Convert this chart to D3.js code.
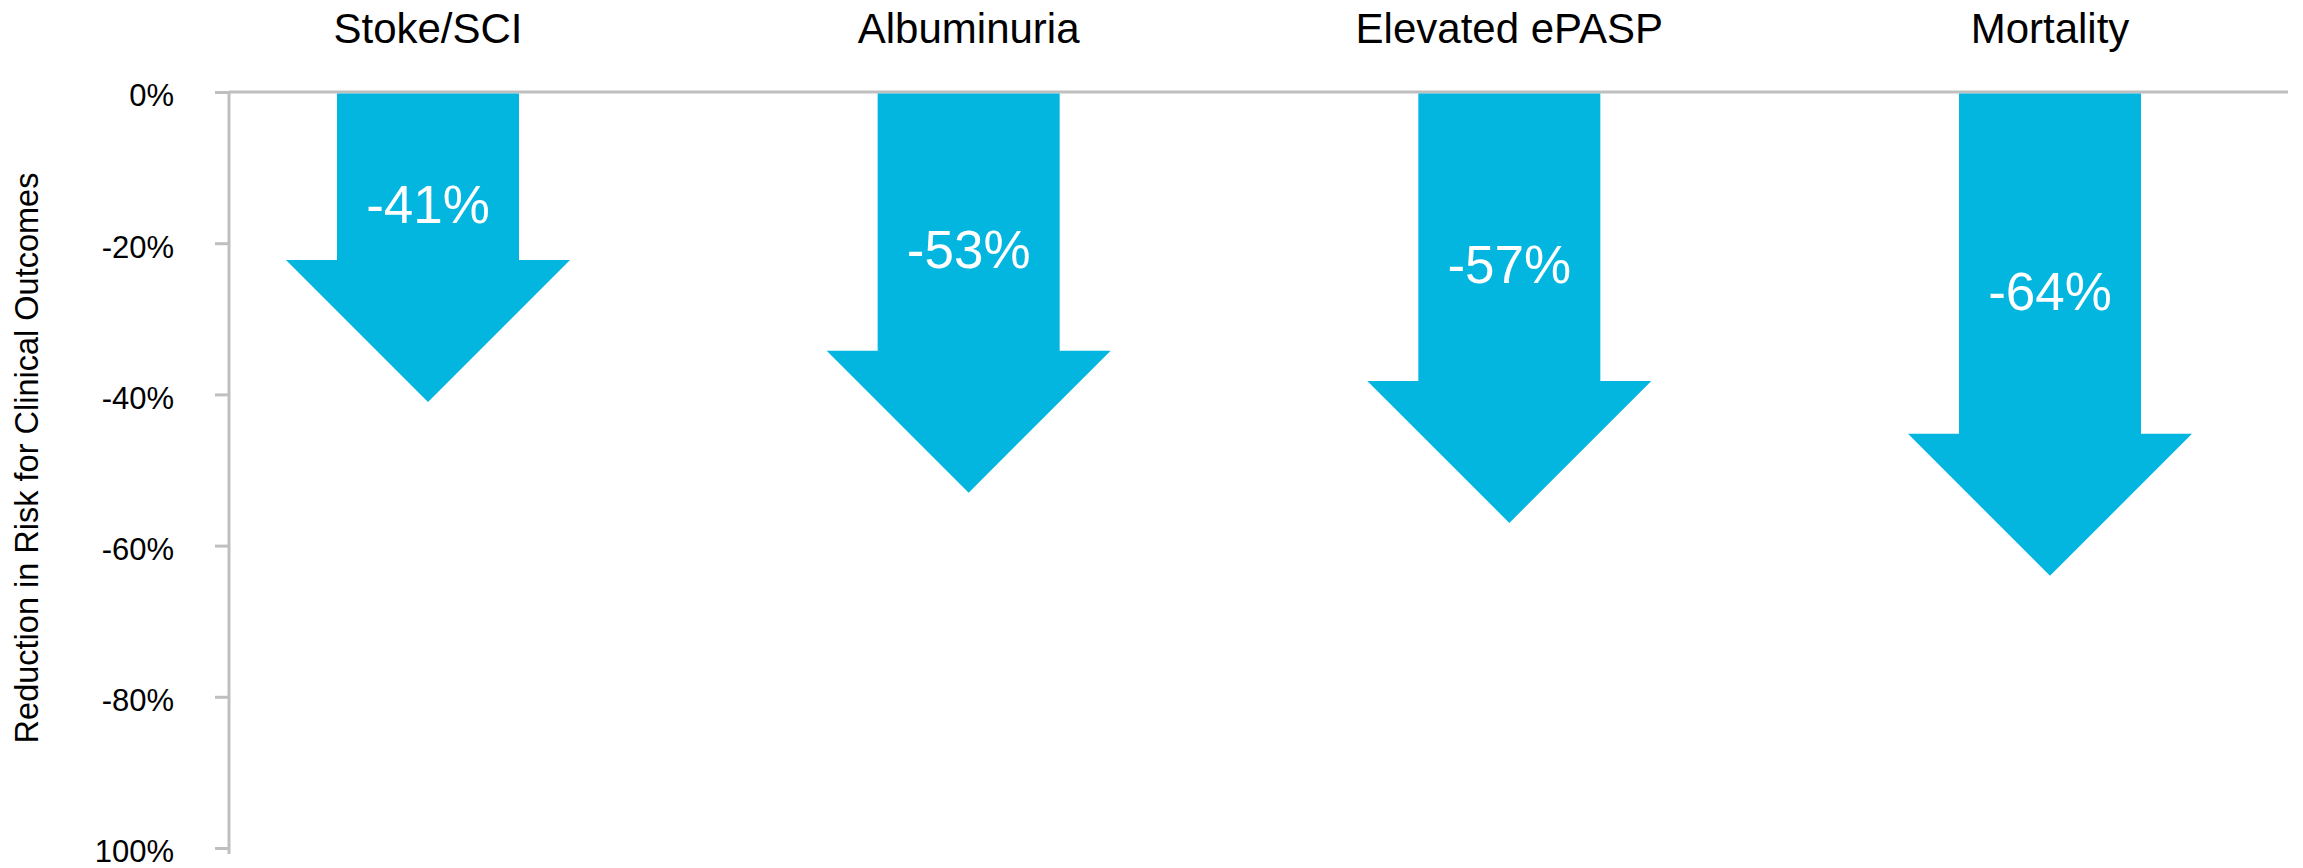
<!DOCTYPE html>
<html>
<head>
<meta charset="utf-8">
<script src="https://cdn.jsdelivr.net/npm/d3@7"></script>
<style>
  html, body { margin: 0; padding: 0; background: #ffffff; }
  svg { display: block; font-family: "Liberation Sans", Arial, Helvetica, sans-serif; }
</style>
</head>
<body>
<svg id="chart" width="2303" height="868"></svg>
<script>
// Outcome categories and the relative risk reduction for each
const categories = ["Stoke/SCI", "Albuminuria", "Elevated ePASP", "Mortality"];
const reductions = [-0.41, -0.53, -0.57, -0.64];
const valueLabels = ["-41%", "-53%", "-57%", "-64%"];

// Y axis ticks and their printed labels
const tickValues = [0, -0.2, -0.4, -0.6, -0.8, -1.0];
const tickLabels = ["0%", "-20%", "-40%", "-60%", "-80%", "100%"];

const axisTitle = "Reduction in Risk for Clinical Outcomes";

const svg = d3.select("#chart");

const axisX = 229;
const lineEnd = 2288;

const y = d3.scaleLinear().domain([0, -1]).range([92, 848]);
const x = d3.scalePoint().domain(categories).range([428, 2050]);

const arrowColor = "#02B6E0";
const gridColor = "#BFBFBF";

const shaftW = 182, headW = 284, headH = 142;

// zero baseline across the plot
svg.append("line")
  .attr("x1", axisX).attr("x2", lineEnd)
  .attr("y1", y(0)).attr("y2", y(0))
  .attr("stroke", gridColor).attr("stroke-width", 3);

// left axis
const yAxis = d3.axisLeft(y)
  .tickValues(tickValues)
  .tickSize(14)
  .tickPadding(0)
  .tickFormat((d, i) => tickLabels[i]);

const gAxis = svg.append("g")
  .attr("transform", `translate(${axisX},0)`)
  .call(yAxis);

gAxis.select(".domain")
  .attr("d", `M0,${y(0) - 1}V${y(-1) + 6}`)
  .attr("stroke", gridColor).attr("stroke-width", 3).attr("fill", "none");
gAxis.selectAll(".tick line")
  .attr("stroke", gridColor).attr("stroke-width", 3);
gAxis.selectAll(".tick text")
  .attr("x", 174 - axisX)
  .attr("dy", "0.45em")
  .attr("text-anchor", "end")
  .attr("fill", "#000")
  .style("font-size", "31px")
  .style("font-family", '"Liberation Sans", Arial, sans-serif');

// rotated axis title
svg.append("text")
  .attr("transform", `translate(38,458) rotate(-90)`)
  .attr("text-anchor", "middle")
  .attr("fill", "#000")
  .style("font-size", "32.5px")
  .text(axisTitle);

// category titles above the arrows
svg.append("g").selectAll("text")
  .data(categories)
  .join("text")
  .attr("x", d => x(d))
  .attr("y", 43)
  .attr("text-anchor", "middle")
  .attr("fill", "#000")
  .style("font-size", "42px")
  .text(d => d);

// downward arrows: tip sits at the reduction value
const data = categories.map((c, i) => ({ cat: c, value: reductions[i], label: valueLabels[i] }));

function arrowPath(d) {
  const cx = x(d.cat);
  const top = y(0) + 1.5;
  const tip = y(d.value);
  const headTop = tip - headH;
  const p = d3.path();
  p.moveTo(cx - shaftW / 2, top);
  p.lineTo(cx + shaftW / 2, top);
  p.lineTo(cx + shaftW / 2, headTop);
  p.lineTo(cx + headW / 2, headTop);
  p.lineTo(cx, tip);
  p.lineTo(cx - headW / 2, headTop);
  p.lineTo(cx - shaftW / 2, headTop);
  p.closePath();
  return p.toString();
}

const gArrows = svg.append("g");
gArrows.selectAll("path")
  .data(data)
  .join("path")
  .attr("d", arrowPath)
  .attr("fill", arrowColor);

// value labels inside the arrow shafts
gArrows.selectAll("text")
  .data(data)
  .join("text")
  .attr("x", d => x(d.cat))
  .attr("y", d => {
    const top = y(0) + 1.5;
    const headTop = y(d.value) - headH;
    return (top + headTop) / 2 + 27;
  })
  .attr("dy", "0.36em")
  .attr("text-anchor", "middle")
  .attr("fill", "#ffffff")
  .style("font-size", "53px")
  .text(d => d.label);
</script>
</body>
</html>
